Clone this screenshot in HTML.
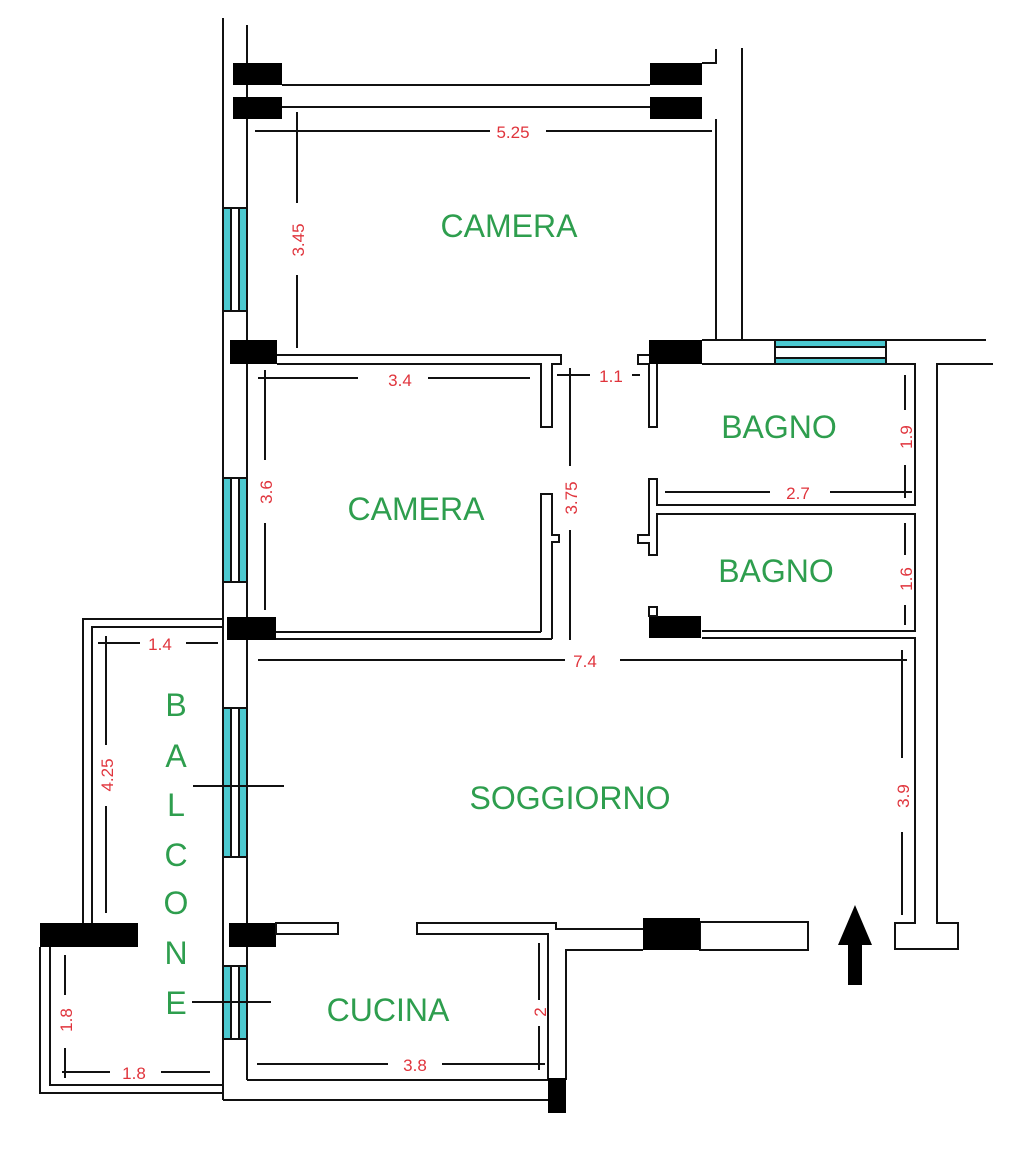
<!DOCTYPE html>
<html><head><meta charset="utf-8"><style>
html,body{margin:0;padding:0;background:#fff}
svg{display:block}
.w{stroke:#111;stroke-width:2;fill:none}
.wf{stroke:#111;stroke-width:2;fill:#fff}
.d{stroke:#111;stroke-width:2}
.t{font-family:"Liberation Sans",sans-serif;font-size:17px;fill:#e0343c}
.g{font-family:"Liberation Sans",sans-serif;font-size:32px;fill:#2e9e4e}
</style></head><body>
<svg width="1031" height="1154" viewBox="0 0 1031 1154" xmlns="http://www.w3.org/2000/svg">
<!-- left main wall -->
<line class="w" x1="223" y1="18" x2="223" y2="1100"/>
<line class="w" x1="247" y1="25" x2="247" y2="1080"/>
<!-- top corridor -->
<line class="w" x1="282" y1="85" x2="650" y2="85"/>
<line class="w" x1="282" y1="107" x2="650" y2="107"/>
<rect x="233" y="63" width="49" height="22" fill="#000"/>
<rect x="233" y="97" width="49" height="22" fill="#000"/>
<rect x="650" y="63" width="52" height="22" fill="#000"/>
<rect x="650" y="97" width="52" height="22" fill="#000"/>
<polyline class="w" points="702,63 716,63 716,49"/>
<line class="w" x1="742" y1="48" x2="742" y2="340"/>
<line class="w" x1="716" y1="119" x2="716" y2="340"/>
<!-- windows left -->
<g>
<rect x="223" y="208" width="24" height="103" fill="#fff" stroke="#111" stroke-width="2"/>
<rect x="224" y="209" width="7" height="101" fill="#4cc9d0"/><rect x="239" y="209" width="7" height="101" fill="#4cc9d0"/>
<line class="d" x1="231" y1="208" x2="231" y2="311"/><line class="d" x1="239" y1="208" x2="239" y2="311"/>
</g>
<g>
<rect x="223" y="478" width="24" height="104" fill="#fff" stroke="#111" stroke-width="2"/>
<rect x="224" y="479" width="7" height="102" fill="#4cc9d0"/><rect x="239" y="479" width="7" height="102" fill="#4cc9d0"/>
<line class="d" x1="231" y1="478" x2="231" y2="582"/><line class="d" x1="239" y1="478" x2="239" y2="582"/>
</g>
<g>
<rect x="223" y="708" width="24" height="149" fill="#fff" stroke="#111" stroke-width="2"/>
<rect x="224" y="709" width="7" height="147" fill="#4cc9d0"/><rect x="239" y="709" width="7" height="147" fill="#4cc9d0"/>
<line class="d" x1="231" y1="708" x2="231" y2="857"/><line class="d" x1="239" y1="708" x2="239" y2="857"/>
</g>
<g>
<rect x="223" y="966" width="24" height="73" fill="#fff" stroke="#111" stroke-width="2"/>
<rect x="224" y="967" width="7" height="71" fill="#4cc9d0"/><rect x="239" y="967" width="7" height="71" fill="#4cc9d0"/>
<line class="d" x1="231" y1="966" x2="231" y2="1039"/><line class="d" x1="239" y1="966" x2="239" y2="1039"/>
</g>
<!-- camera2 top wall -->
<polyline class="w" points="277,355 561,355 561,364 552,364 552,427 541,427 541,364 277,364"/>
<rect x="230" y="340" width="47" height="24" fill="#000"/>
<!-- camera2 right lower stub -->
<polyline class="w" points="541,632 541,494 552,494 552,535 559,535 559,542 552,542 552,639"/>
<line class="w" x1="276" y1="632" x2="541" y2="632"/>
<line class="w" x1="276" y1="639" x2="552" y2="639"/>
<rect x="227" y="617" width="49" height="23" fill="#000"/>
<!-- bagno top -->
<rect x="649" y="340" width="53" height="24" fill="#000"/>
<polyline class="w" points="649,355 638,355 638,364 649,364"/>
<polyline class="w" points="649,364 649,427 657,427 657,364"/>
<line class="w" x1="702" y1="340" x2="775" y2="340"/>
<line class="w" x1="702" y1="364" x2="775" y2="364"/>
<rect x="775" y="340" width="111" height="24" fill="#fff" stroke="#111" stroke-width="2"/>
<rect x="776" y="341" width="109" height="6" fill="#4cc9d0"/>
<rect x="776" y="358" width="109" height="5" fill="#4cc9d0"/>
<line class="d" x1="775" y1="347" x2="886" y2="347"/><line class="d" x1="775" y1="358" x2="886" y2="358"/>
<line class="w" x1="886" y1="340" x2="986" y2="340"/>
<polyline class="w" points="886,364 915,364 915,505 657,505 657,479 649,479 649,535 638,535 638,543 649,543 649,555 657,555 657,514 915,514 915,631 702,631"/>
<polyline class="w" points="993,364 937,364 937,923 958,923 958,949 895,949 895,923 915,923 915,638 702,638"/>
<rect x="649" y="616" width="52" height="22" fill="#000"/>
<rect x="649" y="607" width="8" height="9" fill="#fff" stroke="#111" stroke-width="2"/>
<!-- balcone -->
<polyline class="w" points="223,619 83,619 83,923"/>
<polyline class="w" points="223,627 92,627 92,923"/>
<rect x="40" y="923" width="98" height="24" fill="#000"/>
<polyline class="w" points="40,947 40,1093 223,1093"/>
<polyline class="w" points="50,947 50,1085 223,1085"/>
<!-- cucina -->
<rect x="229" y="923" width="47" height="24" fill="#000"/>
<rect x="276" y="923" width="62" height="11" class="wf"/>
<polyline class="w" points="548,1080 548,934 417,934 417,923 556,923 556,929 643,929"/>
<polyline class="w" points="566,1080 566,950 643,950"/>
<rect x="700" y="922" width="108" height="28" class="wf"/>
<rect x="643" y="918" width="57" height="32" fill="#000"/>
<line class="w" x1="223" y1="1100" x2="548" y2="1100"/>
<line class="w" x1="247" y1="1080" x2="548" y2="1080"/>
<rect x="548" y="1078" width="18" height="35" fill="#000"/>
<!-- arrow -->
<polygon points="855,905 872,945 862,945 862,985 848,985 848,945 838,945" fill="#000"/>
<!-- dimension lines -->
<g class="d">
<line x1="255" y1="131" x2="490" y2="131"/><line x1="546" y1="131" x2="712" y2="131"/>
<line x1="297" y1="112" x2="297" y2="203"/><line x1="297" y1="275" x2="297" y2="348"/>
<line x1="258" y1="378" x2="358" y2="378"/><line x1="428" y1="378" x2="530" y2="378"/>
<line x1="265" y1="370" x2="265" y2="460"/><line x1="265" y1="523" x2="265" y2="610"/>
<line x1="557" y1="375" x2="590" y2="375"/><line x1="632" y1="375" x2="640" y2="375"/>
<line x1="570" y1="368" x2="570" y2="466"/><line x1="570" y1="530" x2="570" y2="640"/>
<line x1="665" y1="492" x2="770" y2="492"/><line x1="830" y1="492" x2="912" y2="492"/>
<line x1="905" y1="375" x2="905" y2="410"/><line x1="905" y1="465" x2="905" y2="498"/>
<line x1="905" y1="523" x2="905" y2="555"/><line x1="905" y1="605" x2="905" y2="625"/>
<line x1="258" y1="660" x2="565" y2="660"/><line x1="620" y1="660" x2="907" y2="660"/>
<line x1="902" y1="650" x2="902" y2="758"/><line x1="902" y1="832" x2="902" y2="915"/>
<line x1="98" y1="643" x2="140" y2="643"/><line x1="186" y1="643" x2="218" y2="643"/>
<line x1="106" y1="636" x2="106" y2="745"/><line x1="106" y1="806" x2="106" y2="913"/>
<line x1="65" y1="955" x2="65" y2="995"/><line x1="65" y1="1048" x2="65" y2="1078"/>
<line x1="62" y1="1072" x2="110" y2="1072"/><line x1="161" y1="1072" x2="210" y2="1072"/>
<line x1="257" y1="1064" x2="388" y2="1064"/><line x1="442" y1="1064" x2="545" y2="1064"/>
<line x1="539" y1="943" x2="539" y2="1000"/><line x1="539" y1="1026" x2="539" y2="1070"/>
<line x1="193" y1="786" x2="284" y2="786"/>
<line x1="192" y1="1002" x2="271" y2="1002"/>
</g>
<!-- dimension text -->
<text class="t" x="513" y="138" text-anchor="middle">5.25</text>
<text class="t" transform="translate(304,240) rotate(-90)" text-anchor="middle">3.45</text>
<text class="t" x="400" y="386" text-anchor="middle">3.4</text>
<text class="t" transform="translate(272,492) rotate(-90)" text-anchor="middle">3.6</text>
<text class="t" x="611" y="382" text-anchor="middle">1.1</text>
<text class="t" transform="translate(577,498) rotate(-90)" text-anchor="middle">3.75</text>
<text class="t" x="798" y="499" text-anchor="middle">2.7</text>
<text class="t" transform="translate(912,437) rotate(-90)" text-anchor="middle">1.9</text>
<text class="t" transform="translate(912,579) rotate(-90)" text-anchor="middle">1.6</text>
<text class="t" x="585" y="667" text-anchor="middle">7.4</text>
<text class="t" transform="translate(909,796) rotate(-90)" text-anchor="middle">3.9</text>
<text class="t" x="160" y="650" text-anchor="middle">1.4</text>
<text class="t" transform="translate(113,775) rotate(-90)" text-anchor="middle">4.25</text>
<text class="t" transform="translate(72,1020) rotate(-90)" text-anchor="middle">1.8</text>
<text class="t" x="134" y="1079" text-anchor="middle">1.8</text>
<text class="t" x="415" y="1071" text-anchor="middle">3.8</text>
<text class="t" transform="translate(546,1012) rotate(-90)" text-anchor="middle">2</text>
<!-- labels -->
<text class="g" x="509" y="237" text-anchor="middle">CAMERA</text>
<text class="g" x="416" y="520" text-anchor="middle">CAMERA</text>
<text class="g" x="779" y="438" text-anchor="middle">BAGNO</text>
<text class="g" x="776" y="582" text-anchor="middle">BAGNO</text>
<text class="g" x="570" y="809" text-anchor="middle">SOGGIORNO</text>
<text class="g" x="388" y="1021" text-anchor="middle">CUCINA</text>
<g class="g" text-anchor="middle">
<text x="176" y="716">B</text><text x="176" y="767">A</text><text x="176" y="816">L</text>
<text x="176" y="866">C</text><text x="176" y="914">O</text><text x="176" y="964">N</text>
<text x="176" y="1014">E</text>
</g>
</svg>
</body></html>
